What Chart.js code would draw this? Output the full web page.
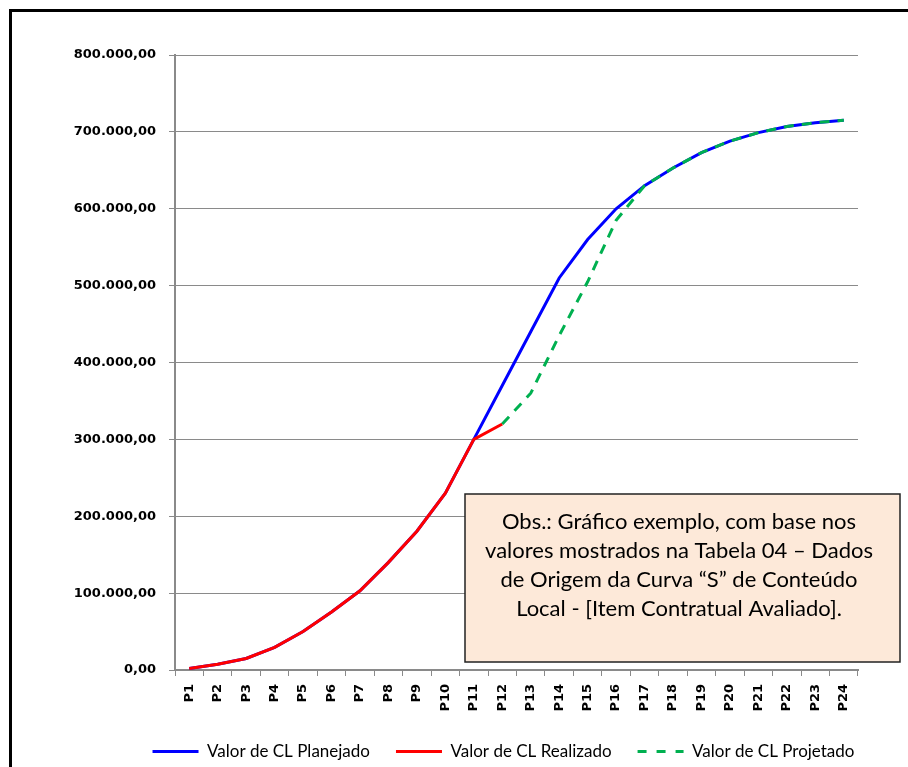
<!DOCTYPE html>
<html>
<head>
<meta charset="utf-8">
<script src="https://cdn.jsdelivr.net/npm/chart.js@4.4.1/dist/chart.umd.min.js"></script>
<style>
  html, body { margin: 0; padding: 0; background: #fff; overflow: hidden; }
  #wrap { position: relative; width: 908px; height: 767px; }
  #frame { position: absolute; left: 9px; top: 9px; width: 1200px; height: 1200px;
           border-left: 3px solid #000; border-top: 3px solid #000; box-sizing: border-box; pointer-events: none; }
  canvas { position: absolute; left: 0; top: 0; }
</style>
</head>
<body>
<div id="wrap">
  <canvas id="c" width="908" height="767"></canvas>
  <div id="frame"></div>
</div>
<script>
// ---- data ----
const categories = ['P1','P2','P3','P4','P5','P6','P7','P8','P9','P10','P11','P12',
                    'P13','P14','P15','P16','P17','P18','P19','P20','P21','P22','P23','P24'];
const planejado = [2000, 7500, 15000, 29500, 50000, 75500, 103000, 140000, 180500, 230000, 300000, 370000,
                   440000, 510000, 560000, 600000, 630000, 653000, 673000, 688000, 699000, 707000, 712000, 715000];
const realizado = [2000, 7500, 15000, 29500, 50000, 75500, 103000, 140000, 180500, 230000, 300000, 320000,
                   null, null, null, null, null, null, null, null, null, null, null, null];
const projetado = [null, null, null, null, null, null, null, null, null, null, null, 320000,
                   360000, 435000, 505000, 585000, 630000, 653000, 673000, 688000, 699000, 707000, 712000, 715000];
const seriesNames = ['Valor de CL Planejado', 'Valor de CL Realizado', 'Valor de CL Projetado'];
const yTicks = [0, 100000, 200000, 300000, 400000, 500000, 600000, 700000, 800000];
const noteLines = ['Obs.: Gráfico exemplo, com base nos',
                   'valores mostrados na Tabela 04 – Dados',
                   'de Origem da Curva “S” de Conteúdo',
                   'Local - [Item Contratual Avaliado].'];

function fmtBR(v) {
  const s = Math.round(v).toString().replace(/\B(?=(\d{3})+(?!\d))/g, '.');
  return s + ',00';
}

const notePlugin = {
  id: 'note',
  afterLayout(chart) {
    // shift the legend so it is centred like the reference
    const lg = chart.legend;
    if (lg) {
      const target = 503.5;
      const d = target - (lg.left + lg.right) / 2;
      lg.left += d; lg.right += d;
    }
  },
  afterDraw(chart) {
    const ctx = chart.ctx;
    const x = 465, y = 494, w = 435, h = 168;
    ctx.save();
    ctx.fillStyle = '#FDE9D9';
    ctx.fillRect(x, y, w, h);
    ctx.strokeStyle = '#222';
    ctx.lineWidth = 1.5;
    ctx.strokeRect(x, y, w, h);
    ctx.fillStyle = '#000';
    ctx.font = '22px Lato';
    ctx.textAlign = 'center';
    ctx.textBaseline = 'middle';
    noteLines.forEach((t, i) => ctx.fillText(t, 679, 522 + i * 29));
    ctx.restore();
  }
};

const gridColor = '#8a8a8a';

new Chart(document.getElementById('c'), {
  type: 'line',
  data: {
    labels: categories,
    datasets: [
      { label: seriesNames[0], data: planejado, borderColor: '#0000FF', backgroundColor: '#0000FF',
        borderWidth: 3, pointRadius: 0, tension: 0, order: 3 },
      { label: seriesNames[1], data: realizado, borderColor: '#FF0000', backgroundColor: '#FF0000',
        borderWidth: 3, pointRadius: 0, tension: 0, order: 2 },
      { label: seriesNames[2], data: projetado, borderColor: '#00B050', backgroundColor: '#00B050',
        borderWidth: 3, borderDash: [10, 8], pointRadius: 0, tension: 0, order: 1 }
    ]
  },
  options: {
    responsive: false,
    animation: false,
    layout: { padding: { left: 50, right: 50, top: 55, bottom: -3 } },
    plugins: {
      tooltip: { enabled: false },
      legend: {
        position: 'bottom',
        labels: {
          usePointStyle: true,
          pointStyle: 'line',
          pointStyleWidth: 46,
          padding: 26,
          color: '#000',
          font: { family: 'Lato', size: 17 },
          sort: (a, b) => a.datasetIndex - b.datasetIndex,
          generateLabels: (chart) => {
            const items = Chart.defaults.plugins.legend.labels.generateLabels(chart);
            items.forEach(it => {
              const ds = chart.data.datasets[it.datasetIndex];
              it.lineDash = ds.borderDash ? [9, 10] : [];
              it.lineWidth = ds.borderWidth;
              it.strokeStyle = ds.borderColor;
            });
            return items;
          }
        }
      }
    },
    scales: {
      x: {
        offset: true,
        grid: { drawOnChartArea: false, drawTicks: true, offset: true, tickLength: 6, color: gridColor, lineWidth: 1 },
        border: { color: gridColor, width: 2 },
        ticks: {
          autoSkip: false, maxRotation: 90, minRotation: 90, padding: 8,
          color: '#000', font: { family: 'DejaVu Sans', size: 13, weight: 'bold' }
        },
        afterFit: (s) => { s.height = 47; }
      },
      y: {
        min: 0, max: 800000,
        afterBuildTicks: (s) => { s.ticks = yTicks.map(v => ({ value: v })); },
        grid: { color: gridColor, lineWidth: 1, tickLength: 6 },
        border: { color: gridColor, width: 2 },
        ticks: {
          padding: 13, color: '#000',
          font: { family: 'DejaVu Sans', size: 13, weight: 'bold' },
          callback: (v) => fmtBR(v)
        },
        afterFit: (s) => { s.width = 125; }
      }
    }
  },
  plugins: [notePlugin]
});
</script>
</body>
</html>
